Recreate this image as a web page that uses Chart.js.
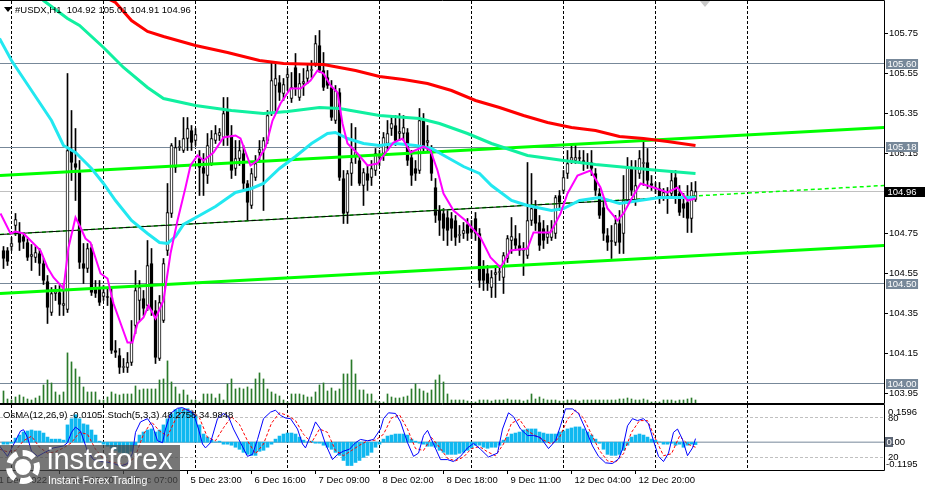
<!DOCTYPE html>
<html>
<head>
<meta charset="utf-8">
<script src="https://cdn.jsdelivr.net/npm/chart.js@4"></script>
<style>
html, body { margin: 0; padding: 0; background: #fff; }
#wrap { position: relative; width: 925px; height: 490px; overflow: hidden; font-family: 'Liberation Sans', Arial, sans-serif; }
#main { position: absolute; left: 0; top: 0; }
#osc { position: absolute; left: 0; top: 404px; }
.tri { position: absolute; left: 4px; top: 7px; width: 0; height: 0; border-left: 4px solid transparent; border-right: 4px solid transparent; border-top: 5px solid #000; }
.hdr { position: absolute; left: 15px; top: 4px; font-size: 9.5px; line-height: 11px; color: #000; white-space: pre; }
.sub { position: absolute; left: 3px; top: 409px; font-size: 9.5px; line-height: 11px; color: #000; white-space: pre; }
.mark { position: absolute; left: 700px; top: 1px; width: 0; height: 0; border-left: 5px solid transparent; border-right: 5px solid transparent; border-top: 6px solid #c8c8c8; }
#wm { position: absolute; left: 0; top: 445px; width: 180px; height: 45px; background: rgba(70,70,70,0.74); }
#wm .gear { position: absolute; left: 6px; top: 5px; width: 22px; height: 22px; border: 6px dashed #fff; border-radius: 50%; }
#wm .core { position: absolute; left: 15px; top: 14px; width: 16px; height: 16px; background: #fff; border-radius: 50%; }
#wm .w1 { position: absolute; left: 47px; top: 0px; font-size: 29px; line-height: 29px; color: #fff; }
#wm .w2 { position: absolute; left: 48px; top: 29px; font-size: 10.5px; line-height: 12px; color: #fff; }
</style>
</head>
<body>
<div id="wrap">
  <canvas id="main" width="925" height="404"></canvas>
  <canvas id="osc" width="925" height="86"></canvas>
  <div class="tri"></div>
  <div class="hdr">#USDX,H1  104.92 105.01 104.91 104.96</div>
  <div class="mark"></div>
  <div class="sub">OsMA(12,26,9) -0.0105  Stoch(5,3,3) 48.2758 34.9848</div>
  <div id="wm"><div class="gear"></div><div class="core"></div><div class="w1">instaforex</div><div class="w2">Instant Forex Trading</div></div>
</div>
<script>
// H1 bars, index 0 = first visible bar
var openP = [
104.665,104.665,104.685,104.790,104.750,104.735,104.705,104.635,104.630,104.650,
104.600,104.510,104.355,104.450,104.455,104.390,104.370,105.165,105.100,105.055,
104.600,104.575,104.680,104.480,104.480,104.435,104.435,104.430,104.165,104.140,
104.080,104.080,104.105,104.290,104.415,104.425,104.390,104.600,104.365,104.125,
104.315,104.665,104.850,105.080,105.180,105.165,105.225,105.265,105.215,105.125,
105.080,105.040,105.100,105.215,105.240,105.230,105.365,105.240,105.075,105.125,
105.150,105.000,104.890,105.030,105.155,105.165,105.215,105.350,105.490,105.505,
105.450,105.530,105.425,105.580,105.430,105.500,105.525,105.565,105.600,105.690,
105.565,105.530,105.480,105.315,105.455,105.025,104.855,105.050,105.140,105.115,
104.990,105.050,105.030,105.065,105.130,105.150,105.200,105.275,105.290,105.250,
105.250,105.255,105.130,105.075,105.065,105.315,105.205,105.150,104.980,104.865,
104.850,104.830,104.825,104.815,104.740,104.750,104.795,104.775,104.825,104.750,
104.575,104.550,104.480,104.545,104.555,104.530,104.625,104.715,104.725,104.690,
104.665,104.640,104.815,104.875,104.805,104.775,104.730,104.730,104.750,104.940,
104.965,105.050,105.115,105.115,105.130,105.115,105.100,105.105,105.050,104.950,
104.880,104.740,104.715,104.705,104.800,104.750,104.915,105.080,104.915,105.050,
105.100,105.105,105.000,104.980,104.975,104.930,104.940,104.950,105.030,104.950,
104.900,104.905,104.825,104.920];
var highP = [
104.685,104.680,104.730,104.850,104.805,104.755,104.725,104.695,104.685,104.675,
104.625,104.540,104.480,104.490,104.490,104.500,105.550,105.365,105.275,105.115,
104.700,104.700,104.695,104.515,104.515,104.490,104.480,104.480,104.215,104.175,
104.125,104.155,104.315,104.565,104.515,104.465,104.715,104.675,104.415,104.440,
104.625,105.000,105.200,105.230,105.215,105.330,105.330,105.290,105.275,105.165,
105.150,105.250,105.265,105.290,105.275,105.430,105.430,105.290,105.215,105.215,
105.190,105.015,105.075,105.140,105.215,105.230,105.365,105.600,105.600,105.540,
105.525,105.575,105.555,105.650,105.550,105.575,105.600,105.615,105.740,105.765,
105.655,105.565,105.515,105.490,105.475,105.065,105.065,105.300,105.280,105.140,
105.075,105.090,105.115,105.175,105.165,105.255,105.315,105.340,105.340,105.350,
105.340,105.275,105.165,105.115,105.375,105.350,105.290,105.190,105.025,104.890,
104.875,104.865,104.855,104.840,104.790,104.805,104.825,104.815,104.855,104.775,
104.615,104.590,104.565,104.590,104.580,104.655,104.740,104.830,104.790,104.750,
104.705,105.105,105.050,104.915,104.840,104.815,104.790,104.815,104.940,104.965,
105.065,105.165,105.200,105.200,105.165,105.165,105.150,105.165,105.075,104.975,
104.915,104.775,104.790,104.840,104.865,105.040,105.130,105.115,105.115,105.165,
105.215,105.175,105.040,105.005,105.005,104.975,104.980,105.065,105.065,104.990,
104.950,104.990,105.005,105.010];
var lowP = [
104.575,104.590,104.665,104.740,104.665,104.675,104.615,104.565,104.605,104.540,
104.495,104.300,104.340,104.415,104.340,104.340,104.355,105.015,104.915,104.575,
104.500,104.555,104.440,104.430,104.390,104.415,104.390,104.150,104.130,104.050,
104.055,104.055,104.090,104.250,104.315,104.340,104.365,104.340,104.100,104.115,
104.305,104.640,104.830,105.055,105.165,105.155,105.165,105.165,105.190,104.940,
104.940,105.000,105.090,105.200,105.215,105.190,105.190,105.025,105.040,105.090,
104.965,104.815,104.875,105.015,105.105,104.865,105.200,105.340,105.365,105.415,
105.415,105.465,105.405,105.440,105.415,105.440,105.500,105.530,105.585,105.555,
105.465,105.475,105.315,105.300,105.015,104.800,104.800,104.990,105.100,104.990,
104.890,104.965,104.990,105.040,105.090,105.115,105.165,105.240,105.190,105.215,
105.215,105.090,104.990,105.015,105.050,105.155,105.165,105.015,104.805,104.740,
104.715,104.690,104.715,104.690,104.705,104.725,104.715,104.725,104.715,104.480,
104.465,104.465,104.430,104.430,104.515,104.450,104.605,104.650,104.665,104.640,
104.540,104.625,104.790,104.765,104.665,104.675,104.700,104.715,104.725,104.865,
104.950,105.025,105.100,105.100,105.100,105.065,105.075,105.040,104.940,104.825,
104.715,104.665,104.625,104.690,104.650,104.650,104.900,104.940,104.890,105.025,
104.990,104.975,104.965,104.950,104.900,104.915,104.850,104.930,104.900,104.840,
104.830,104.755,104.755,104.910];
var closeP = [
104.625,104.610,104.700,104.820,104.705,104.710,104.630,104.645,104.655,104.600,
104.515,104.380,104.450,104.460,104.395,104.400,105.165,105.105,105.080,104.605,
104.575,104.675,104.455,104.450,104.405,104.455,104.430,104.165,104.155,104.080,
104.085,104.105,104.205,104.465,104.480,104.375,104.590,104.365,104.130,104.405,
104.600,104.855,105.190,105.180,105.185,105.225,105.275,105.205,105.245,105.080,
105.050,105.190,105.225,105.250,105.255,105.350,105.240,105.065,105.125,105.165,
105.000,104.905,105.050,105.100,105.170,105.215,105.340,105.515,105.525,105.455,
105.495,105.545,105.480,105.480,105.500,105.510,105.565,105.570,105.700,105.565,
105.480,105.490,105.330,105.465,105.030,104.850,105.050,105.105,105.155,105.000,
105.055,105.015,105.075,105.150,105.135,105.230,105.250,105.300,105.215,105.260,
105.280,105.115,105.040,105.050,105.315,105.175,105.215,105.050,104.840,104.815,
104.775,104.765,104.775,104.730,104.745,104.765,104.750,104.755,104.750,104.515,
104.515,104.500,104.530,104.555,104.560,104.640,104.725,104.735,104.690,104.665,
104.670,104.815,104.875,104.800,104.690,104.715,104.750,104.765,104.930,104.905,
105.030,105.100,105.130,105.130,105.125,105.100,105.105,105.075,104.965,104.840,
104.750,104.705,104.710,104.800,104.705,104.915,105.080,104.965,104.990,105.125,
105.105,105.015,104.990,104.975,104.930,104.955,104.930,105.015,104.930,104.855,
104.875,104.825,104.965,104.960];
var tickVolume = [
1200,400,300,600,800,600,400,300,500,700,
1800,2300,2000,1100,800,1100,5000,4100,3400,2600,
1600,1100,1100,1100,300,300,600,1100,900,800,
900,900,900,1700,1300,1400,1400,1400,1400,2300,
2400,4200,2100,1600,900,1300,800,300,300,100,
900,900,900,500,900,300,1900,2400,1400,1500,
1400,1600,1400,2400,3000,2400,1400,1100,900,700,
300,100,900,900,900,800,600,600,1100,1800,
2000,1200,1500,1200,1400,2900,2900,4300,2900,1300,
1300,900,900,200,100,100,900,600,500,500,
600,700,1400,1900,1400,1200,1000,1300,2300,2800,
2100,900,300,300,300,300,200,100,100,300,
300,300,200,300,300,300,400,300,300,300,
200,300,900,400,600,400,300,300,300,200,
200,300,300,300,200,300,300,300,300,300,
300,300,300,300,400,400,500,400,300,300,
400,300,100,100,100,300,300,300,200,300,
300,400,500,300];
var osma = [
-0.0087,-0.0087,-0.0044,0.0174,0.0305,0.0436,0.0480,0.0523,0.0480,0.0480,
0.0392,0.0218,0.0131,0.0131,0.0131,0.0087,0.0741,0.1003,0.1177,0.1003,
0.0785,0.0741,0.0523,0.0305,0.0044,-0.0087,-0.0174,-0.0262,-0.0349,-0.0436,
-0.0480,-0.0480,-0.0392,-0.0131,0.0305,0.0436,0.0523,0.0567,0.0436,0.0523,
0.0741,0.1003,0.1221,0.1395,0.1439,0.1439,0.1439,0.1352,0.1177,0.0741,
0.0349,0.0218,0.0087,0.0010,0.0044,-0.0087,-0.0087,-0.0131,-0.0218,-0.0305,
-0.0436,-0.0523,-0.0567,-0.0567,-0.0392,-0.0349,-0.0218,-0.0087,0.0131,0.0262,
0.0349,0.0392,0.0392,0.0349,0.0218,0.0087,0.0010,0.0044,-0.0044,-0.0044,
-0.0131,-0.0218,-0.0305,-0.0436,-0.0567,-0.0785,-0.1003,-0.1003,-0.0872,-0.0785,
-0.0654,-0.0567,-0.0436,-0.0218,-0.0087,0.0131,0.0262,0.0305,0.0349,0.0349,
0.0349,0.0305,0.0131,0.0044,-0.0044,-0.0087,-0.0174,-0.0174,-0.0218,-0.0349,
-0.0436,-0.0523,-0.0523,-0.0523,-0.0480,-0.0436,-0.0349,-0.0262,-0.0131,-0.0131,
-0.0218,-0.0262,-0.0218,-0.0218,-0.0131,0.0087,0.0218,0.0349,0.0392,0.0436,
0.0523,0.0567,0.0567,0.0567,0.0436,0.0392,0.0349,0.0349,0.0349,0.0436,
0.0480,0.0567,0.0610,0.0654,0.0654,0.0567,0.0436,0.0305,0.0131,-0.0044,
-0.0305,-0.0523,-0.0567,-0.0567,-0.0523,-0.0349,-0.0131,0.0218,0.0305,0.0349,
0.0305,0.0218,0.0131,0.0087,0.0010,-0.0087,-0.0087,-0.0044,-0.0131,-0.0087,
-0.0218,-0.0131,-0.0087,-0.0105];

// moving averages, [bar, price]
var maRed = [[20,105.99],[24,105.945],[28,105.905],[32,105.815],[36,105.76],[40,105.735],[48,105.69],[56,105.655],[64,105.615],[70,105.60],[80,105.595],[88,105.565],[94,105.535],[100,105.52],[106,105.50],[112,105.465],[118,105.415],[124,105.38],[130,105.34],[136,105.305],[142,105.28],[148,105.265],[154,105.235],[160,105.225],[166,105.21],[173,105.19]];
var maGreen = [[6,105.99],[10,105.915],[16,105.825],[19,105.79],[25,105.68],[30,105.58],[36,105.48],[40,105.425],[48,105.39],[57,105.365],[65,105.35],[71,105.36],[79,105.38],[84,105.375],[94,105.34],[104,105.325],[109,105.30],[116,105.25],[122,105.20],[131,105.14],[140,105.115],[148,105.095],[156,105.08],[164,105.065],[173,105.05]];
var maCyan = [[-1,105.725],[2,105.615],[7,105.465],[12,105.315],[15,105.19],[18,105.155],[22,105.075],[25,105.00],[28,104.915],[32,104.815],[36,104.75],[39,104.705],[41,104.70],[43,104.735],[45,104.795],[49,104.84],[53,104.885],[58,104.955],[62,104.975],[65,105.00],[69,105.075],[73,105.135],[77,105.20],[81,105.25],[83,105.255],[86,105.225],[90,105.20],[94,105.19],[98,105.20],[103,105.19],[107,105.175],[111,105.13],[115,105.085],[119,105.05],[122,104.99],[127,104.915],[131,104.89],[137,104.865],[140,104.875],[144,104.915],[149,104.93],[154,104.90],[159,104.915],[164,104.93],[173,104.93]];
var maMagenta = [[-0.75,104.85],[0.5,104.80],[1.75,104.75],[3,104.76],[5,104.75],[7.5,104.70],[9.25,104.665],[11,104.58],[12.5,104.53],[15,104.475],[16.25,104.68],[18,104.83],[19.25,104.78],[20.5,104.725],[21.75,104.705],[24.25,104.55],[26,104.525],[27.5,104.40],[31,104.205],[32.25,104.205],[33.5,104.30],[35,104.33],[36.25,104.39],[38,104.325],[40,104.415],[41.75,104.65],[43.5,104.815],[45.5,104.98],[46.75,105.09],[48.5,105.14],[50,105.115],[52.5,105.155],[55,105.23],[58,105.24],[59.25,105.225],[61.75,105.09],[63.5,105.115],[65.5,105.18],[67.25,105.315],[69.25,105.40],[71.75,105.475],[74.25,105.475],[76.75,105.515],[78.5,105.565],[80,105.55],[81.75,105.49],[83.5,105.455],[84.75,105.30],[86,105.20],[88.5,105.15],[91,105.09],[93.5,105.10],[95,105.14],[97.5,105.205],[99.75,105.225],[101.75,105.155],[105,105.185],[106.75,105.165],[108.5,105.065],[110,104.95],[112.5,104.865],[115.5,104.815],[119.25,104.73],[121.75,104.63],[124.25,104.58],[126.75,104.665],[131,104.675],[132.5,104.755],[136.75,104.755],[139.25,104.85],[141,104.95],[143.5,105.04],[146.75,105.065],[149.25,104.98],[151,104.875],[153.5,104.815],[155,104.85],[156.75,104.915],[159.25,105.00],[162.5,104.98],[166,104.955],[168.5,104.98],[171,104.915],[173,104.925]];

// stochastic (5,3,3), [bar, value]
var stochMain = [[-1,37],[1,21],[3,45],[4.25,60],[5,62],[6,50],[7,29],[8.5,21],[10,26],[12.5,34],[15,37],[16,42],[17,58],[18,66],[19.25,60],[21,29],[22.5,16],[24.25,13],[26,12],[27.5,10],[29.25,6],[31,10],[32.25,26],[33,58],[34.25,74],[36,79],[37.25,68],[38.5,45],[39.75,42],[40.5,63],[41.75,87],[43.5,95],[44.75,96],[46,92],[47.5,87],[48.75,63],[49.75,40],[50.5,34],[51.75,42],[53.5,79],[55,87],[56.25,82],[57.5,63],[59.25,42],[61,21],[62.25,24],[63.5,47],[65,79],[66.75,89],[68,92],[69.25,84],[70.5,80],[71.75,79],[73.5,63],[74.75,40],[75.5,34],[76.75,53],[78,74],[79.25,63],[80.5,40],[82.25,16],[83.5,24],[85,29],[86.5,32],[88,42],[89.25,47],[91,45],[92.5,47],[94.25,63],[95,79],[96.25,88],[98,87],[99.25,74],[101,42],[102.5,21],[103.75,26],[105,53],[106,61],[107.5,40],[109.25,16],[111,16],[112.5,13],[114.25,21],[116,34],[117.5,41],[119.25,32],[121.25,20],[123.5,26],[124.75,63],[126.25,88],[127.5,82],[129.25,63],[131,53],[132.5,53],[134.25,50],[136.25,33],[138,45],[139.25,68],[140.5,94],[142.25,94],[143.75,87],[145.5,63],[147.25,37],[148.75,21],[150.5,11],[152.25,10],[153.75,17],[154.75,32],[156,68],[157.25,79],[158.5,76],[160,79],[161.25,71],[162.5,45],[163.75,21],[165,13],[166.25,26],[167.5,58],[168.5,63],[169.75,47],[171,22],[172.25,34],[173,48.28]];
var stochSignal = [[-1,32],[1,28],[3,30],[5,45],[7,52],[9,35],[11,26],[13,28],[15,34],[17,42],[19,58],[21,55],[23,32],[25,17],[27,12],[29,10],[31,8],[33,22],[35,55],[37,74],[39,60],[41,52],[43,78],[45,93],[47,92],[49,80],[51,50],[53,45],[55,65],[57,82],[59,70],[61,45],[63,25],[65,40],[67,72],[69,88],[71,84],[73,76],[75,55],[77,42],[79,63],[81,58],[83,30],[85,22],[87,30],[89,38],[91,45],[93,46],[95,55],[97,80],[99,85],[101,63],[103,33],[105,30],[107,50],[109,35],[111,18],[113,14],[115,20],[117,33],[119,36],[121,28],[123,22],[125,40],[127,72],[129,78],[131,60],[133,53],[135,46],[137,40],[139,50],[141,78],[143,92],[145,80],[147,55],[149,30],[151,14],[153,12],[155,25],[157,58],[159,76],[161,76],[163,48],[165,22],[167,25],[169,52],[171,40],[173,34.98]];

// price levels and channel lines (prices at left and right edge of the window)
var levelPrices = [105.60, 105.18, 104.50, 104.00];
var lastPrice = 104.96;
var channelTop = [105.04, 105.28];
var channelMid = [104.745, 104.99];
var channelMidAtLastBar = 104.937;
var channelLow = [104.45, 104.69];

var priceTicks = [105.75, 105.55, 105.35, 105.15, 104.95, 104.75, 104.55, 104.35, 104.15, 103.95];
var stochLevels = [80, 20];
var gridBars = [2, 25, 48, 71, 94, 117, 140, 163, 186];
var timeTickBars = [-2, 14, 30, 46, 62, 78, 94, 110, 126, 142, 158];
var timeLabels = ['1 Dec 2022', '2 Dec 15:00', '5 Dec 07:00', '5 Dec 23:00', '6 Dec 16:00', '7 Dec 09:00', '8 Dec 02:00', '8 Dec 18:00', '9 Dec 11:00', '12 Dec 04:00', '12 Dec 20:00'];

var xMin = -0.875, xMax = 220.125, lastBar = openP.length - 1;
var FONT = "9.5px 'Liberation Sans', Arial, sans-serif";

Chart.defaults.font.family = "'Liberation Sans', Arial, sans-serif";
Chart.defaults.font.size = 9.5;
Chart.defaults.color = '#000';

function pts(arr) { return arr.map(function (p) { return { x: p[0], y: p[1] }; }); }
function lineDs(data, color, width, order, extra) {
  var d = { type: 'line', data: data, borderColor: color, borderWidth: width, pointRadius: 0, order: order, tension: 0 };
  for (var k in extra) d[k] = extra[k];
  return d;
}

var wicks = [], bodies = [], bodyColors = [], vols = [];
for (var i = 0; i < openP.length; i++) {
  wicks.push({ x: i, y: [lowP[i], highP[i]] });
  bodies.push({ x: i, y: [openP[i], closeP[i]] });
  bodyColors.push(closeP[i] >= openP[i] ? '#ffffff' : '#000000');
  vols.push({ x: i, y: tickVolume[i] });
}

var framePlugin = {
  id: 'frame',
  afterDraw: function (chart) {
    var ctx = chart.ctx, a = chart.chartArea;
    ctx.save();
    ctx.strokeStyle = '#000';
    ctx.lineWidth = 1;
    ctx.beginPath();
    ctx.moveTo(a.left, a.top - 0.5);
    ctx.lineTo(a.right + 0.5, a.top - 0.5);
    ctx.lineTo(a.right + 0.5, a.bottom + 0.5);
    ctx.lineTo(a.left, a.bottom + 0.5);
    ctx.stroke();
    ctx.restore();
  }
};

var tagPlugin = {
  id: 'tags',
  afterDraw: function (chart) {
    var ctx = chart.ctx, y = chart.scales.y;
    ctx.save();
    ctx.font = FONT;
    ctx.textBaseline = 'middle';
    levelPrices.forEach(function (p) {
      var py = Math.round(y.getPixelForValue(p));
      var t = p.toFixed(2), w = ctx.measureText(t).width;
      ctx.fillStyle = '#778899';
      ctx.fillRect(886, py - 5, w + 3, 10);
      ctx.fillStyle = '#fff';
      ctx.fillText(t, 887.5, py + 0.5);
    });
    var py = Math.round(y.getPixelForValue(lastPrice));
    ctx.fillStyle = '#000';
    ctx.fillRect(885, py - 5, 40, 10);
    ctx.fillStyle = '#fff';
    ctx.fillText(lastPrice.toFixed(2), 887.5, py + 0.5);
    ctx.restore();
  }
};

new Chart(document.getElementById('main'), {
  type: 'bar',
  data: {
    datasets: [].concat(
      levelPrices.map(function (p) {
        return lineDs([{ x: xMin, y: p }, { x: xMax, y: p }], '#778899', 1, 30, {});
      }),
      [
        lineDs([{ x: xMin, y: lastPrice }, { x: xMax, y: lastPrice }], '#c0c0c0', 1, 29, {}),
        { type: 'bar', data: vols, yAxisID: 'yv', backgroundColor: '#2a7a2a', barThickness: 1, grouped: false, order: 25 },
        { type: 'bar', data: wicks, backgroundColor: '#000', barThickness: 1, grouped: false, order: 20 },
        { type: 'bar', data: bodies, backgroundColor: bodyColors, borderColor: '#000', borderWidth: 1, borderSkipped: false, barThickness: 3, grouped: false, order: 19 },
        lineDs([{ x: xMin, y: channelTop[0] }, { x: xMax, y: channelTop[1] }], '#00ff00', 3, 9, {}),
        lineDs([{ x: xMin, y: channelLow[0] }, { x: xMax, y: channelLow[1] }], '#00ff00', 3, 9, {}),
        lineDs([{ x: xMin, y: channelMid[0] }, { x: xMax, y: channelMid[1] }], '#00ff00', 1.5, 8, { borderDash: [4, 3] }),
        lineDs([{ x: xMin, y: channelMid[0] }, { x: lastBar, y: channelMidAtLastBar }], '#000000', 1, 7, {}),
        lineDs(pts(maGreen), '#10f0a0', 3, 6, {}),
        lineDs(pts(maRed), '#ff0000', 3, 5, {}),
        lineDs(pts(maCyan), '#22e8f0', 3, 4, {}),
        lineDs(pts(maMagenta), '#ff00ff', 2, 3, {})
      ]
    )
  },
  options: {
    responsive: false,
    animation: false,
    devicePixelRatio: 1,
    events: [],
    layout: { padding: { top: 1, bottom: 1, left: 0, right: 0 } },
    plugins: { legend: { display: false }, tooltip: { enabled: false } },
    scales: {
      x: {
        type: 'linear', min: xMin, max: xMax, offset: false,
        afterBuildTicks: function (s) { s.ticks = gridBars.map(function (v) { return { value: v }; }); },
        afterFit: function (s) { s.height = 0; s.paddingLeft = 0; s.paddingRight = 0; },
        ticks: { display: false },
        grid: { offset: false, color: '#000', drawTicks: false, lineWidth: 1 },
        border: { display: false, dash: [3, 2] }
      },
      y: {
        type: 'linear', position: 'right', min: 103.9025, max: 105.9125,
        afterBuildTicks: function (s) { s.ticks = priceTicks.map(function (v) { return { value: v }; }); },
        afterFit: function (s) { s.width = 41; s.paddingTop = 0; s.paddingBottom = 0; },
        ticks: { autoSkip: false, padding: 1, color: '#000', callback: function (v) { return Number(v).toFixed(2); } },
        grid: { drawOnChartArea: false, drawTicks: true, tickLength: 4, color: '#000' },
        border: { display: false }
      },
      yv: { type: 'linear', display: false, min: 0, max: 40100 }
    }
  },
  plugins: [framePlugin, tagPlugin]
});

var oscTagPlugin = {
  id: 'oscTags',
  afterDraw: function (chart) {
    var ctx = chart.ctx, yo = chart.scales.yo;
    ctx.save();
    ctx.font = FONT;
    ctx.textBaseline = 'middle';
    ctx.fillStyle = '#000';
    ctx.fillText(yo.max.toFixed(4), 888, yo.getPixelForValue(yo.max) + 7);
    ctx.fillText(yo.min.toFixed(4), 886, yo.getPixelForValue(yo.min) - 6);
    var p0 = Math.round(yo.getPixelForValue(0));
    ctx.fillStyle = '#5d6675';
    ctx.fillRect(885, p0 - 5, 8, 10);
    ctx.fillStyle = '#fff';
    ctx.fillText('0', 886.5, p0 + 0.5);
    var w0 = ctx.measureText('0').width;
    ctx.fillStyle = '#000';
    ctx.fillText('.00', 886.5 + w0, p0 + 0.5);
    ctx.restore();
  }
};

new Chart(document.getElementById('osc'), {
  type: 'bar',
  data: {
    datasets: [
      lineDs([{ x: xMin, y: 0 }, { x: xMax, y: 0 }], '#778899', 1, 10, { xAxisID: 'x', yAxisID: 'yo' }),
      { type: 'bar', data: osma.map(function (v, i) { return { x: i, y: v }; }), xAxisID: 'x', yAxisID: 'yo', backgroundColor: '#10b8f0', barThickness: 3, grouped: false, order: 8 },
      lineDs(pts(stochSignal), '#ff0000', 1, 2, { xAxisID: 'x', yAxisID: 'ys', borderDash: [3, 2] }),
      lineDs(pts(stochMain), '#0000ff', 1, 1, { xAxisID: 'x', yAxisID: 'ys' })
    ]
  },
  options: {
    responsive: false,
    animation: false,
    devicePixelRatio: 1,
    events: [],
    layout: { padding: { top: 1, bottom: 0, left: 0, right: 0 } },
    plugins: { legend: { display: false }, tooltip: { enabled: false } },
    scales: {
      x: {
        type: 'linear', min: xMin, max: xMax, offset: false, position: 'bottom',
        afterBuildTicks: function (s) { s.ticks = timeTickBars.map(function (v) { return { value: v }; }); },
        afterFit: function (s) { s.height = 20; s.paddingLeft = 0; s.paddingRight = 0; },
        ticks: { autoSkip: false, maxRotation: 0, align: 'start', labelOffset: 3, padding: 1, color: '#000',
          callback: function (v, idx) { return timeLabels[idx]; } },
        grid: { offset: false, drawOnChartArea: false, drawTicks: true, tickLength: 4, color: '#000' },
        border: { display: false }
      },
      xg: {
        type: 'linear', min: xMin, max: xMax, offset: false, position: 'bottom',
        afterBuildTicks: function (s) { s.ticks = gridBars.map(function (v) { return { value: v }; }); },
        afterFit: function (s) { s.height = 0; s.paddingLeft = 0; s.paddingRight = 0; },
        ticks: { display: false },
        grid: { offset: false, color: '#000', drawTicks: false },
        border: { display: false, dash: [3, 2] }
      },
      yo: {
        type: 'linear', position: 'right', min: -0.1195, max: 0.1596, weight: 0,
        afterFit: function (s) { s.width = 0; s.paddingTop = 0; s.paddingBottom = 0; },
        ticks: { display: false },
        grid: { display: false },
        border: { display: false }
      },
      ys: {
        type: 'linear', position: 'right', min: 0, max: 100, weight: 1,
        afterBuildTicks: function (s) { s.ticks = stochLevels.map(function (v) { return { value: v }; }); },
        afterFit: function (s) { s.width = 41; s.paddingTop = 0; s.paddingBottom = 0; },
        ticks: { autoSkip: false, padding: 4, color: '#000', callback: function (v) { return String(v); } },
        grid: { drawOnChartArea: true, drawTicks: false, color: '#c0c0c0' },
        border: { display: false, dash: [3, 2] }
      }
    }
  },
  plugins: [framePlugin, oscTagPlugin]
});
</script>
</body>
</html>
